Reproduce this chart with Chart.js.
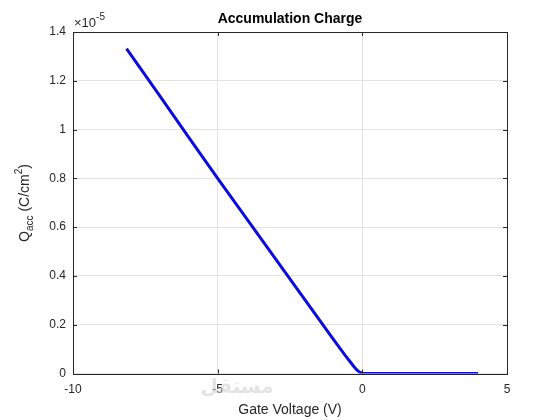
<!DOCTYPE html>
<html>
<head>
<meta charset="utf-8">
<script src="https://cdn.jsdelivr.net/npm/chart.js@4"></script>
<style>
html,body{margin:0;padding:0;background:#fff;}
#wrap{width:560px;height:420px;}
</style>
</head>
<body>
<div id="wrap"><canvas id="c" width="560" height="420"></canvas></div>
<script>
// Data (charge in units of 1e-5 C/cm^2)
const gateVoltage = [-8.15, -7, -6, -5, -4, -3, -2, -1, -0.6, -0.4, -0.3, -0.2, -0.1, 0, 0.2, 1, 2, 3, 4];
const accCharge   = [1.332, 1.138, 0.968, 0.80, 0.635, 0.47, 0.305, 0.14, 0.075, 0.045, 0.03, 0.016, 0.006, 0.001, 0, 0, 0, 0, 0];
const xTicks = [-10, -5, 0, 5];
const yTicks = [0, 0.2, 0.4, 0.6, 0.8, 1, 1.2, 1.4];
const titleText = 'Accumulation Charge';
const xLabelText = 'Gate Voltage (V)';
const watermarkText = 'مستقل';

const FONT = '"Liberation Sans", Arial, Helvetica, sans-serif';
const TXT = '#262626';

const points = gateVoltage.map((v, i) => ({x: v, y: accCharge[i]}));

const decor = {
  id: 'decor',
  afterDraw(chart) {
    const ctx = chart.ctx;
    const a = chart.chartArea;
    const xs = chart.scales.x, ys = chart.scales.y;
    ctx.save();
    // box
    ctx.strokeStyle = TXT;
    ctx.lineWidth = 1;
    ctx.strokeRect(Math.round(a.left) + 0.5, Math.round(a.top) + 0.5, Math.round(a.right - a.left), Math.round(a.bottom - a.top));
    // inward ticks
    ctx.beginPath();
    xTicks.forEach(t => {
      const px = Math.round(xs.getPixelForValue(t)) + 0.5;
      ctx.moveTo(px, a.bottom); ctx.lineTo(px, a.bottom - 4);
      ctx.moveTo(px, a.top); ctx.lineTo(px, a.top + 4);
    });
    yTicks.forEach(t => {
      const py = Math.round(ys.getPixelForValue(t)) + 0.5;
      ctx.moveTo(a.left, py); ctx.lineTo(a.left + 4, py);
      ctx.moveTo(a.right, py); ctx.lineTo(a.right - 4, py);
    });
    ctx.stroke();
    // title
    ctx.fillStyle = '#000';
    ctx.font = 'bold 14px ' + FONT;
    ctx.textAlign = 'center';
    ctx.textBaseline = 'alphabetic';
    ctx.fillText(titleText, (a.left + a.right) / 2, 23);
    // x label
    ctx.fillStyle = TXT;
    ctx.font = '14px ' + FONT;
    ctx.fillText(xLabelText, (a.left + a.right) / 2, 414);
    // exponent label
    ctx.textAlign = 'left';
    ctx.font = '13px ' + FONT;
    ctx.fillText('\u00D710', a.left + 1, 27);
    const w = ctx.measureText('\u00D710').width;
    ctx.font = '10px ' + FONT;
    ctx.fillText('-5', a.left + 1 + w, 20);
    // y label: Q_acc (C/cm^2)
    ctx.save();
    ctx.translate(29, 203);
    ctx.rotate(-Math.PI / 2);
    const big = '14px ' + FONT, small = '10px ' + FONT;
    const parts = [
      {t: 'Q', f: big, dy: 0},
      {t: 'acc', f: small, dy: 4},
      {t: ' (C/cm', f: big, dy: 0},
      {t: '2', f: small, dy: -7},
      {t: ')', f: big, dy: 0}
    ];
    let total = 0;
    parts.forEach(p => { ctx.font = p.f; p.w = ctx.measureText(p.t).width; total += p.w; });
    let cx = -total / 2;
    ctx.textAlign = 'left';
    parts.forEach(p => { ctx.font = p.f; ctx.fillText(p.t, cx, p.dy); cx += p.w; });
    ctx.restore();
    // watermark
    ctx.fillStyle = 'rgba(205,205,205,0.55)';
    ctx.font = 'bold 20px "DejaVu Sans", sans-serif';
    ctx.textAlign = 'center';
    ctx.fillText(watermarkText, 237, 393);
    ctx.restore();
  }
};

new Chart(document.getElementById('c'), {
  type: 'scatter',
  data: {
    datasets: [{
      data: points,
      showLine: true,
      borderColor: '#0c0cd8',
      borderWidth: 3,
      pointRadius: 0,
      tension: 0,
      fill: false
    }]
  },
  options: {
    responsive: false,
    animation: false,
    devicePixelRatio: 1,
    layout: {padding: {left: 0, right: 53, top: 32, bottom: 0}},
    plugins: {legend: {display: false}, tooltip: {enabled: false}, title: {display: false}},
    scales: {
      x: {
        type: 'linear', min: -10, max: 5,
        afterBuildTicks: s => { s.ticks = xTicks.map(v => ({value: v})); },
        afterFit: s => { s.height = 46.5; },
        grid: {color: '#e3e3e3', drawTicks: false, lineWidth: 1},
        border: {display: false},
        ticks: {
          padding: 9, color: TXT, maxRotation: 0,
          font: {family: FONT, size: 12},
          callback: v => String(v)
        }
      },
      y: {
        type: 'linear', min: 0, max: 1.4,
        afterBuildTicks: s => { s.ticks = yTicks.map(v => ({value: v})); },
        afterFit: s => { s.width = 73; },
        grid: {color: '#e3e3e3', drawTicks: false, lineWidth: 1},
        border: {display: false},
        ticks: {
          padding: 7, color: TXT,
          font: {family: FONT, size: 12},
          callback: v => String(+(+v).toFixed(1))
        }
      }
    }
  },
  plugins: [decor]
});
</script>
</body>
</html>
